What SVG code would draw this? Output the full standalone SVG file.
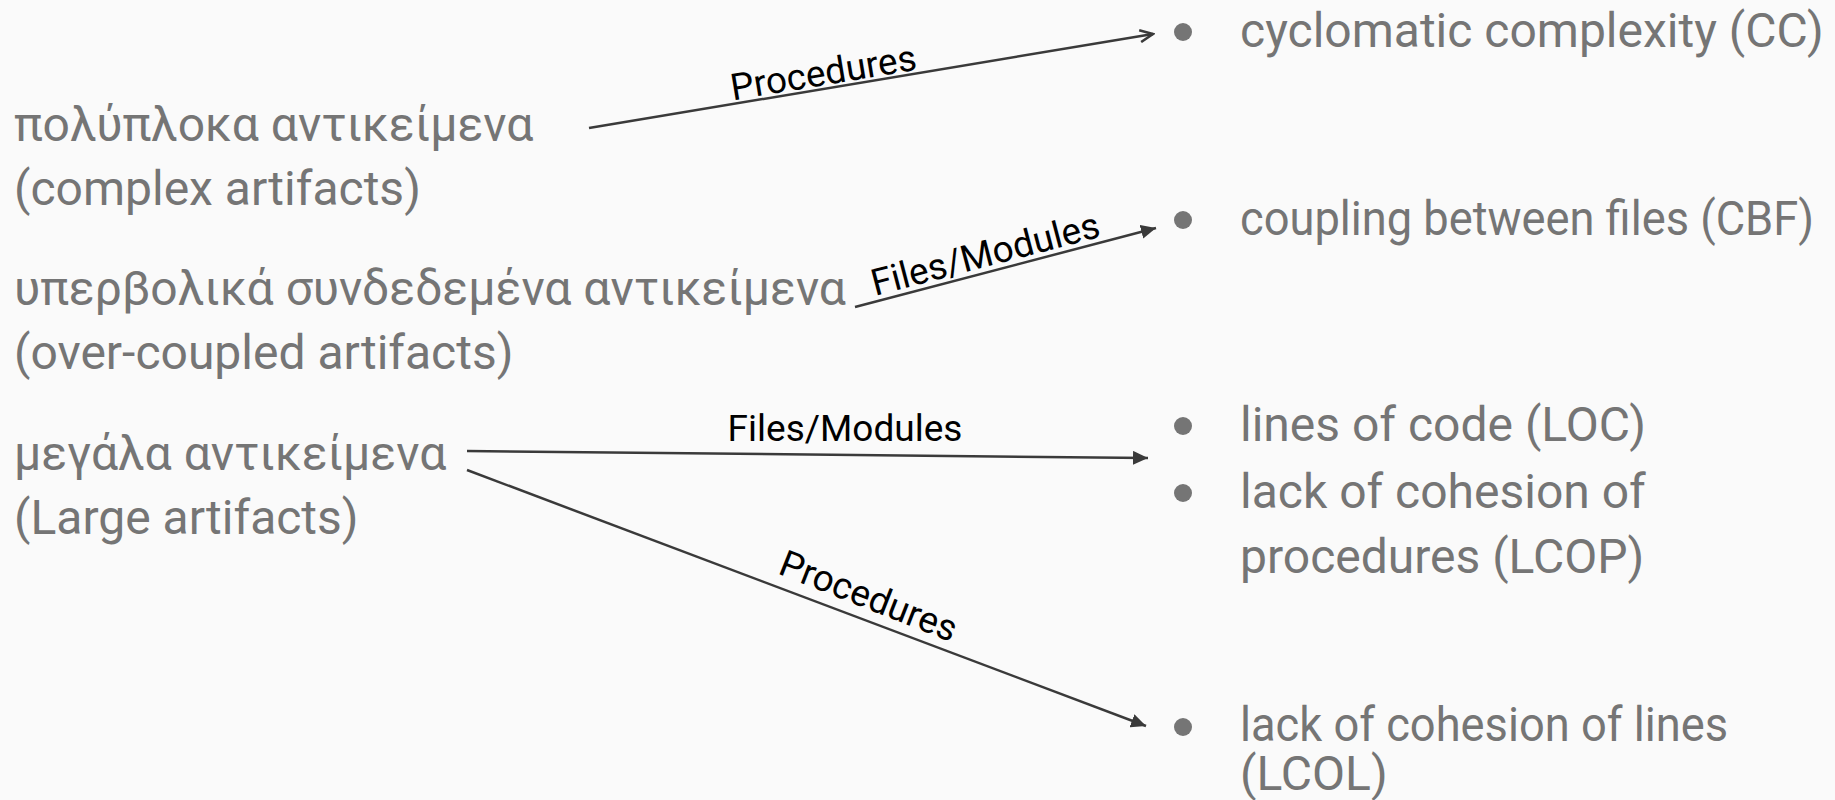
<svg xmlns="http://www.w3.org/2000/svg" width="1835" height="800" viewBox="0 0 1835 800">
  <style>
    .term { font-family: Roboto, "Liberation Sans", sans-serif; font-size: 48px; fill: #757575; }
    .metric { font-family: Roboto, "Liberation Sans", sans-serif; font-size: 48px; fill: #757575; }
    .bullet { fill: #757575; }
    .edge { stroke: #3a3a3a; stroke-width: 2.5; fill: none; }
    .elabel { font-family: Roboto, "Liberation Sans", sans-serif; font-size: 37px; fill: #000000; text-anchor: middle; }
  </style>
  <defs>
    <marker id="arrowFilled" markerUnits="userSpaceOnUse" markerWidth="16" markerHeight="14" refX="15" refY="7" orient="auto">
      <path d="M0,0 L15,7 L0,14 Z" fill="#3a3a3a"/>
    </marker>
    <marker id="arrowOpen" markerUnits="userSpaceOnUse" markerWidth="16" markerHeight="14" refX="14" refY="7" orient="auto">
      <path d="M1,1 L14,7 L1,13" fill="none" stroke="#3a3a3a" stroke-width="2.5" stroke-linejoin="miter"/>
    </marker>
  </defs>

  <rect width="1835" height="800" fill="#fafafa"/>

  <!-- artifact categories -->
  <g id="complex-artifacts">
    <text class="term" x="14" y="141">πολύπλοκα αντικείμενα</text>
    <text class="term" x="14" y="205">(complex artifacts)</text>
  </g>
  <g id="over-coupled-artifacts">
    <text class="term" x="14" y="305">υπερβολικά συνδεδεμένα αντικείμενα</text>
    <text class="term" x="14" y="369">(over-coupled artifacts)</text>
  </g>
  <g id="large-artifacts">
    <text class="term" x="14" y="470">μεγάλα αντικείμενα</text>
    <text class="term" x="14" y="534">(Large artifacts)</text>
  </g>

  <!-- metrics -->
  <g id="metric-cc">
    <circle class="bullet" cx="1183" cy="32" r="9"/>
    <text class="metric" x="1240" y="47">cyclomatic complexity (CC)</text>
  </g>
  <g id="metric-cbf">
    <circle class="bullet" cx="1183" cy="220" r="9"/>
    <text class="metric" x="1240" y="235" textLength="574" lengthAdjust="spacingAndGlyphs">coupling between files (CBF)</text>
  </g>
  <g id="metric-loc">
    <circle class="bullet" cx="1183" cy="426" r="9"/>
    <text class="metric" x="1240" y="441">lines of code (LOC)</text>
  </g>
  <g id="metric-lcop">
    <circle class="bullet" cx="1183" cy="493" r="9"/>
    <text class="metric" x="1240" y="508">lack of cohesion of</text>
    <text class="metric" x="1240" y="573">procedures (LCOP)</text>
  </g>
  <g id="metric-lcol">
    <circle class="bullet" cx="1183" cy="727" r="9"/>
    <text class="metric" x="1240" y="741" textLength="488" lengthAdjust="spacingAndGlyphs">lack of cohesion of lines</text>
    <text class="metric" x="1240" y="790">(LCOL)</text>
  </g>

  <!-- connectors -->
  <g id="connectors">
    <line class="edge" x1="589" y1="128" x2="1153" y2="34" marker-end="url(#arrowOpen)"/>
    <line class="edge" x1="855" y1="307" x2="1156" y2="228" marker-end="url(#arrowFilled)"/>
    <line class="edge" x1="467" y1="451" x2="1148" y2="458" marker-end="url(#arrowFilled)"/>
    <line class="edge" x1="467" y1="470" x2="1146" y2="726" marker-end="url(#arrowFilled)"/>

    <g transform="translate(826,89) rotate(-9.4)"><text class="elabel" x="0" y="-4">Procedures</text></g>
    <g transform="translate(990,272) rotate(-14.7)"><text class="elabel" x="0" y="-6">Files/Modules</text></g>
    <text class="elabel" x="845" y="441">Files/Modules</text>
    <g transform="translate(860,618) rotate(21.5)"><text class="elabel" x="0" y="-11">Procedures</text></g>
  </g>
</svg>
